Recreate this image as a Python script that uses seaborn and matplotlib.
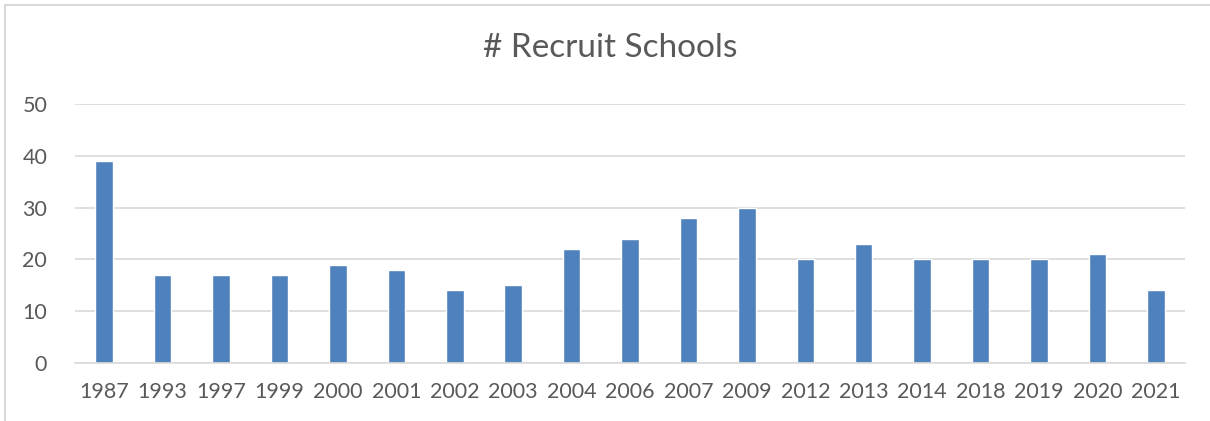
import matplotlib
matplotlib.use('Agg')
import matplotlib.pyplot as plt
import seaborn as sns
import pandas as pd
from matplotlib.lines import Line2D

# Data
years = ['1987', '1993', '1997', '1999', '2000', '2001', '2002', '2003', '2004', '2006',
         '2007', '2009', '2012', '2013', '2014', '2018', '2019', '2020', '2021']
schools = [39, 17, 17, 17, 19, 18, 14, 15, 22, 24, 28, 30, 20, 23, 20, 20, 20, 21, 14]

df = pd.DataFrame({'Year': years, 'Schools': schools})

sns.set_theme(style='white')
plt.rcParams['font.family'] = ['Lato', 'DejaVu Sans']

fig = plt.figure(figsize=(12.1, 4.21), dpi=100)
ax = fig.add_axes([75 / 1210, 1 - 363 / 421, 1110 / 1210, 259 / 421])

sns.barplot(data=df, x='Year', y='Schools', color='#4F81BD', width=0.3,
            saturation=1, ax=ax)

ax.set_ylim(0, 50)
ax.set_xlim(-0.5, len(years) - 0.5)
ax.set_yticks(range(0, 51, 10))
ax.yaxis.grid(True, color='#d9d9d9', linewidth=1.2)
ax.set_axisbelow(True)
for s in ['top', 'right', 'left']:
    ax.spines[s].set_visible(False)
ax.spines['bottom'].set_color('#d9d9d9')
ax.spines['bottom'].set_linewidth(1.2)
ax.tick_params(axis='both', length=0, labelsize=15.5, colors='#595959')
ax.tick_params(axis='y', pad=20)
ax.tick_params(axis='x', pad=14)
ax.set_xlabel('')
ax.set_ylabel('')

fig.text(0.504, 1 - 48 / 421, '# Recruit Schools', ha='center', va='center',
         fontsize=24, color='#595959')

# chart frame (cropped Excel border)
fig.add_artist(Line2D([5 / 1210, 5 / 1210], [0, 1 - 5 / 421], color='#d9d9d9', lw=1.5,
                      transform=fig.transFigure))
fig.add_artist(Line2D([5 / 1210, 1], [1 - 5 / 421, 1 - 5 / 421], color='#d9d9d9', lw=1.5,
                      transform=fig.transFigure))

fig.savefig('out.png', dpi=100)
